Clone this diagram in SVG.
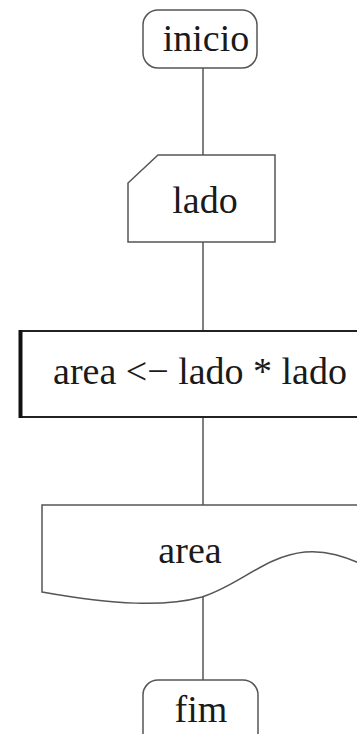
<svg xmlns="http://www.w3.org/2000/svg" width="357" height="734" viewBox="0 0 357 734">
<style>
.s{fill:#fff;stroke:#555;stroke-width:1.5}
.c{stroke:#555;stroke-width:1.5;fill:none}
.t{font-family:"Liberation Serif",serif;font-size:38px;fill:#1a1a1a;text-anchor:middle}
</style>
<rect width="357" height="734" fill="#fff"/>
<g id="connectors">
<line class="c" x1="203" y1="68" x2="203" y2="155"/>
<line class="c" x1="203" y1="242" x2="203" y2="331"/>
<line class="c" x1="203" y1="417" x2="203" y2="505"/>
<line class="c" x1="203" y1="597" x2="203" y2="680"/>
</g>
<g id="inicio">
<rect class="s" x="143" y="10" width="114" height="58" rx="15"/>
<text class="t" x="206" y="51">inicio</text>
</g>
<g id="lado">
<polygon class="s" points="158,155 275,155 275,242 128,242 128,183"/>
<text class="t" x="205" y="213">lado</text>
</g>
<g id="process">
<rect x="20" y="331" width="350" height="86" fill="#fff" stroke="#222" stroke-width="2"/>
<line x1="20.5" y1="330" x2="20.5" y2="418" stroke="#111" stroke-width="4"/>
<text class="t" x="200" y="384">area &lt;− lado * lado</text>
</g>
<g id="output">
<path class="s" d="M42,505 H370 V568 C345,556 325,550 305,552 C265,556 240,585 202,597 C165,607 115,605 42,592 Z"/>
<text class="t" x="190" y="563">area</text>
</g>
<g id="fim">
<rect class="s" x="143" y="680" width="115" height="70" rx="15"/>
<text class="t" x="201" y="722">fim</text>
</g>
</svg>
